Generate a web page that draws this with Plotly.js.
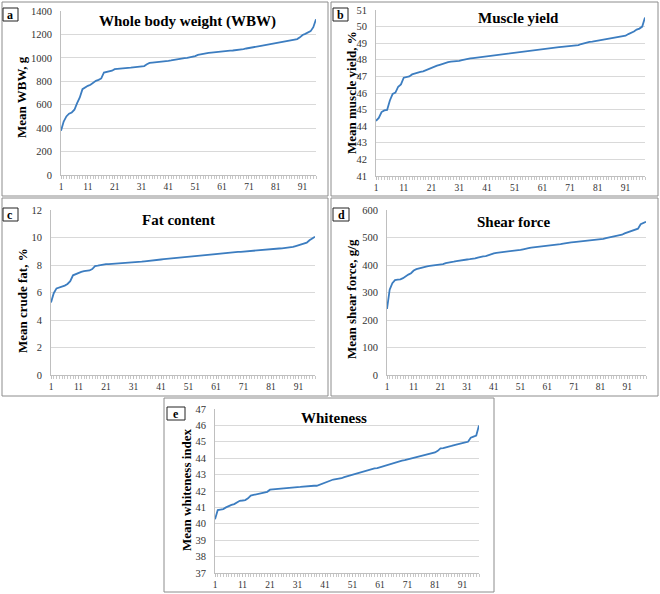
<!DOCTYPE html>
<html><head><meta charset="utf-8">
<script src="https://cdn.plot.ly/plotly-3.0.1.min.js"></script>
<style>html,body{margin:0;padding:0;background:#fff;}#chart{width:660px;height:594px;}</style>
</head><body><div id="chart"></div>
<script>
const wbw = [378,457,500,523,534,557,614,662,733,750, 761,770,790,804,812,824,875,878,884,890,
 903,906,912,913,914,915,916,918,920,925, 929,930,945,957,960,962,962,963,965,972,
 975,978,983,987,990,995,998,1000,1003,1008, 1015,1025,1030,1038,1040,1042,1045,1048,1050,1053,
 1055,1058,1060,1062,1063,1065,1066,1070,1075,1080, 1085,1088,1092,1096,1100,1104,1108,1112,1116,1120,
 1127,1133,1136,1138,1142,1146,1150,1155,1160,1175, 1195,1205,1215,1228,1262,1330];
const muscleYield = [44.32,44.5,44.85,44.95,44.98,45.55,45.95,46.02,46.38,46.52,
 46.92,46.97,47.0,47.12,47.18,47.24,47.27,47.3,47.37,47.45,
 47.55,47.6,47.65,47.7,47.76,47.8,47.86,47.89,47.9,47.91,
 47.94,47.98,48.02,48.07,48.08,48.1,48.12,48.15,48.17,48.18,
 48.2,48.22,48.28,48.3,48.32,48.34,48.36,48.38,48.39,48.41,
 48.43,48.45,48.46,48.47,48.48,48.5,48.52,48.54,48.56,48.58,
 48.6,48.62,48.65,48.68,48.71,48.73,48.76,48.78,48.8,48.82,
 48.84,48.85,48.86,48.88,48.95,49.0,49.05,49.08,49.1,49.13,
 49.17,49.2,49.23,49.26,49.28,49.3,49.33,49.35,49.38,49.42,
 49.45,49.55,49.62,49.7,49.82,49.88,50.0,50.55];
const fatContent = [5.28,5.95,6.3,6.35,6.4,6.5,6.62,6.82,7.25,7.35,
 7.4,7.5,7.55,7.57,7.6,7.7,7.92,7.95,8.0,8.05,
 8.06,8.07,8.08,8.09,8.1,8.11,8.13,8.15,8.17,8.18,
 8.19,8.2,8.22,8.24,8.27,8.3,8.33,8.35,8.37,8.38,
 8.4,8.42,8.44,8.46,8.48,8.5,8.53,8.56,8.58,8.6,
 8.61,8.64,8.67,8.7,8.72,8.74,8.76,8.78,8.79,8.8,
 8.8,8.81,8.83,8.85,8.87,8.89,8.91,8.93,8.95,8.96,
 8.98,9.0,9.02,9.04,9.06,9.08,9.1,9.12,9.13,9.14,
 9.15,9.17,9.18,9.2,9.21,9.23,9.25,9.26,9.32,9.38,
 9.45,9.5,9.55,9.62,9.8,9.92,10.05];
const shearForce = [240,310,334,345,347,348,352,360,365,370,
 380,385,388,390,392,395,397,398,398,400,
 401,403,407,408,410,412,414,416,418,419,
 420,421,422,424,427,430,431,432,436,440,
 442,444,445,446,447,448,449,450,452,454,
 455,457,458,461,463,464,465,466,467,468,
 469,470,471,472,474,476,478,480,481,482,
 483,484,485,486,487,488,489,490,490,491,
 492,495,498,500,503,505,507,508,510,515,
 518,522,524,527,532,548,552,557];
const whiteness = [40.27,40.84,40.87,40.9,41.0,41.1,41.15,41.2,41.3,41.4,
 41.42,41.45,41.55,41.72,41.76,41.8,41.83,41.85,41.9,41.95,
 42.08,42.1,42.11,42.12,42.13,42.15,42.17,42.18,42.2,42.22,
 42.24,42.25,42.27,42.28,42.3,42.31,42.32,42.32,42.38,42.45,
 42.5,42.6,42.65,42.7,42.73,42.75,42.78,42.85,42.9,42.95,
 42.98,43.05,43.1,43.15,43.2,43.22,43.28,43.35,43.38,43.4,
 43.45,43.5,43.55,43.62,43.68,43.7,43.75,43.8,43.85,43.88,
 43.92,43.96,44.0,44.05,44.1,44.15,44.2,44.22,44.25,44.3,
 44.35,44.45,44.6,44.62,44.65,44.68,44.75,44.8,44.85,44.88,
 44.92,44.96,45.0,45.25,45.32,45.38,46.0];

const panelLetters = ['a','b','c','d','e'];
const panelTitles = ['Whole body weight (WBW)','Muscle yield','Fat content','Shear force','Whiteness'];
const yTitles = ['Mean WBW, g','Mean muscle yield, %','Mean crude fat, %','Mean shear force, g/g','Mean whiteness index'];
const yRanges = [[0,1400],[41,51],[0,12],[0,600],[37,47]];
const yDticks = [200,1,2,100,1];
const series = [wbw, muscleYield, fatContent, shearForce, whiteness];

const W = 660, H = 594;
// plot areas in pixels: [left, right, top, bottom]
const plotPx = [[61,316,11,175],[376,645,10,176],[51,315,210,375],[387,646,210,375],[215,479,409,573]];
const boxPx = [[2,328,2,196],[331,658,2,196],[2,328,198,396],[331,658,198,396],[164,494,398,592]];
const letterPx = [[3,18,8,21],[333,348,8,21],[3,18,208,221],[333,349,208,221],[167,185,407,420]];
const titlePx = [[187,21],[518,18],[178,220],[514,222],[334,418]];
const yTitlePx = [[22,97],[351,93],[22,301],[351,299],[186,490]];

const fx = p => p / W, fy = p => 1 - p / H;
const serif = '"Liberation Serif", "Times New Roman", serif';
const traces = [], shapes = [], annotations = [];
const layout = {
  width: W, height: H, margin: {l:0, r:0, t:0, b:0},
  paper_bgcolor: '#fff', plot_bgcolor: '#fff', showlegend: false
};
series.forEach((ys, i) => {
  const n = i === 0 ? '' : String(i + 1);
  const xs = ys.map((_, k) => k + 1);
  traces.push({x: xs, y: ys, type: 'scatter', mode: 'lines',
    line: {color: '#3c7dc0', width: 1.8}, xaxis: 'x' + n, yaxis: 'y' + n, hoverinfo: 'skip'});
  const [l, r, t, b] = plotPx[i];
  layout['xaxis' + n] = {
    domain: [fx(l), fx(r)], anchor: 'y' + n, range: [1, ys.length],
    tick0: 1, dtick: 10, ticks: 'outside', ticklen: 3, tickcolor: '#bfbfbf',
    minor: {dtick: 1, ticks: 'outside', ticklen: 3, tickcolor: '#c8c8c8'},
    showline: true, linecolor: '#bfbfbf', linewidth: 1, showgrid: false, zeroline: false,
    tickfont: {family: serif, size: 9.5, color: '#333'}
  };
  layout['yaxis' + n] = {
    domain: [fy(b), fy(t)], anchor: 'x' + n, range: yRanges[i], dtick: yDticks[i],
    showgrid: true, gridcolor: '#d9d9d9', gridwidth: 1, showline: true, linecolor: '#bfbfbf',
    zeroline: false, ticks: '', ticklabelstandoff: 6,
    tickfont: {family: serif, size: 10.5, color: '#333'}
  };
  const [bl, br, bt, bb] = boxPx[i];
  shapes.push({type: 'rect', xref: 'paper', yref: 'paper', x0: fx(bl), x1: fx(br), y0: fy(bb), y1: fy(bt),
    line: {color: '#8c8c8c', width: 1}});
  const [ll, lr, lt, lb] = letterPx[i];
  shapes.push({type: 'rect', xref: 'paper', yref: 'paper', x0: fx(ll), x1: fx(lr), y0: fy(lb), y1: fy(lt),
    line: {color: '#222', width: 1}, fillcolor: '#fff'});
  annotations.push({xref: 'paper', yref: 'paper', x: fx((ll + lr) / 2), y: fy((lt + lb) / 2),
    text: '<b>' + panelLetters[i] + '</b>', showarrow: false, xanchor: 'center', yanchor: 'middle',
    font: {family: serif, size: 12, color: '#000'}});
  annotations.push({xref: 'paper', yref: 'paper', x: fx(titlePx[i][0]), y: fy(titlePx[i][1]),
    text: '<b>' + panelTitles[i] + '</b>', showarrow: false, xanchor: 'center', yanchor: 'middle',
    font: {family: serif, size: 15, color: '#000'}});
  annotations.push({xref: 'paper', yref: 'paper', x: fx(yTitlePx[i][0]), y: fy(yTitlePx[i][1]),
    text: '<b>' + yTitles[i] + '</b>', showarrow: false, textangle: -90, xanchor: 'center', yanchor: 'middle',
    font: {family: serif, size: 13, color: '#000'}});
});
layout.shapes = shapes;
layout.annotations = annotations;
Plotly.newPlot('chart', traces, layout, {displayModeBar: false, staticPlot: true});
</script></body></html>
